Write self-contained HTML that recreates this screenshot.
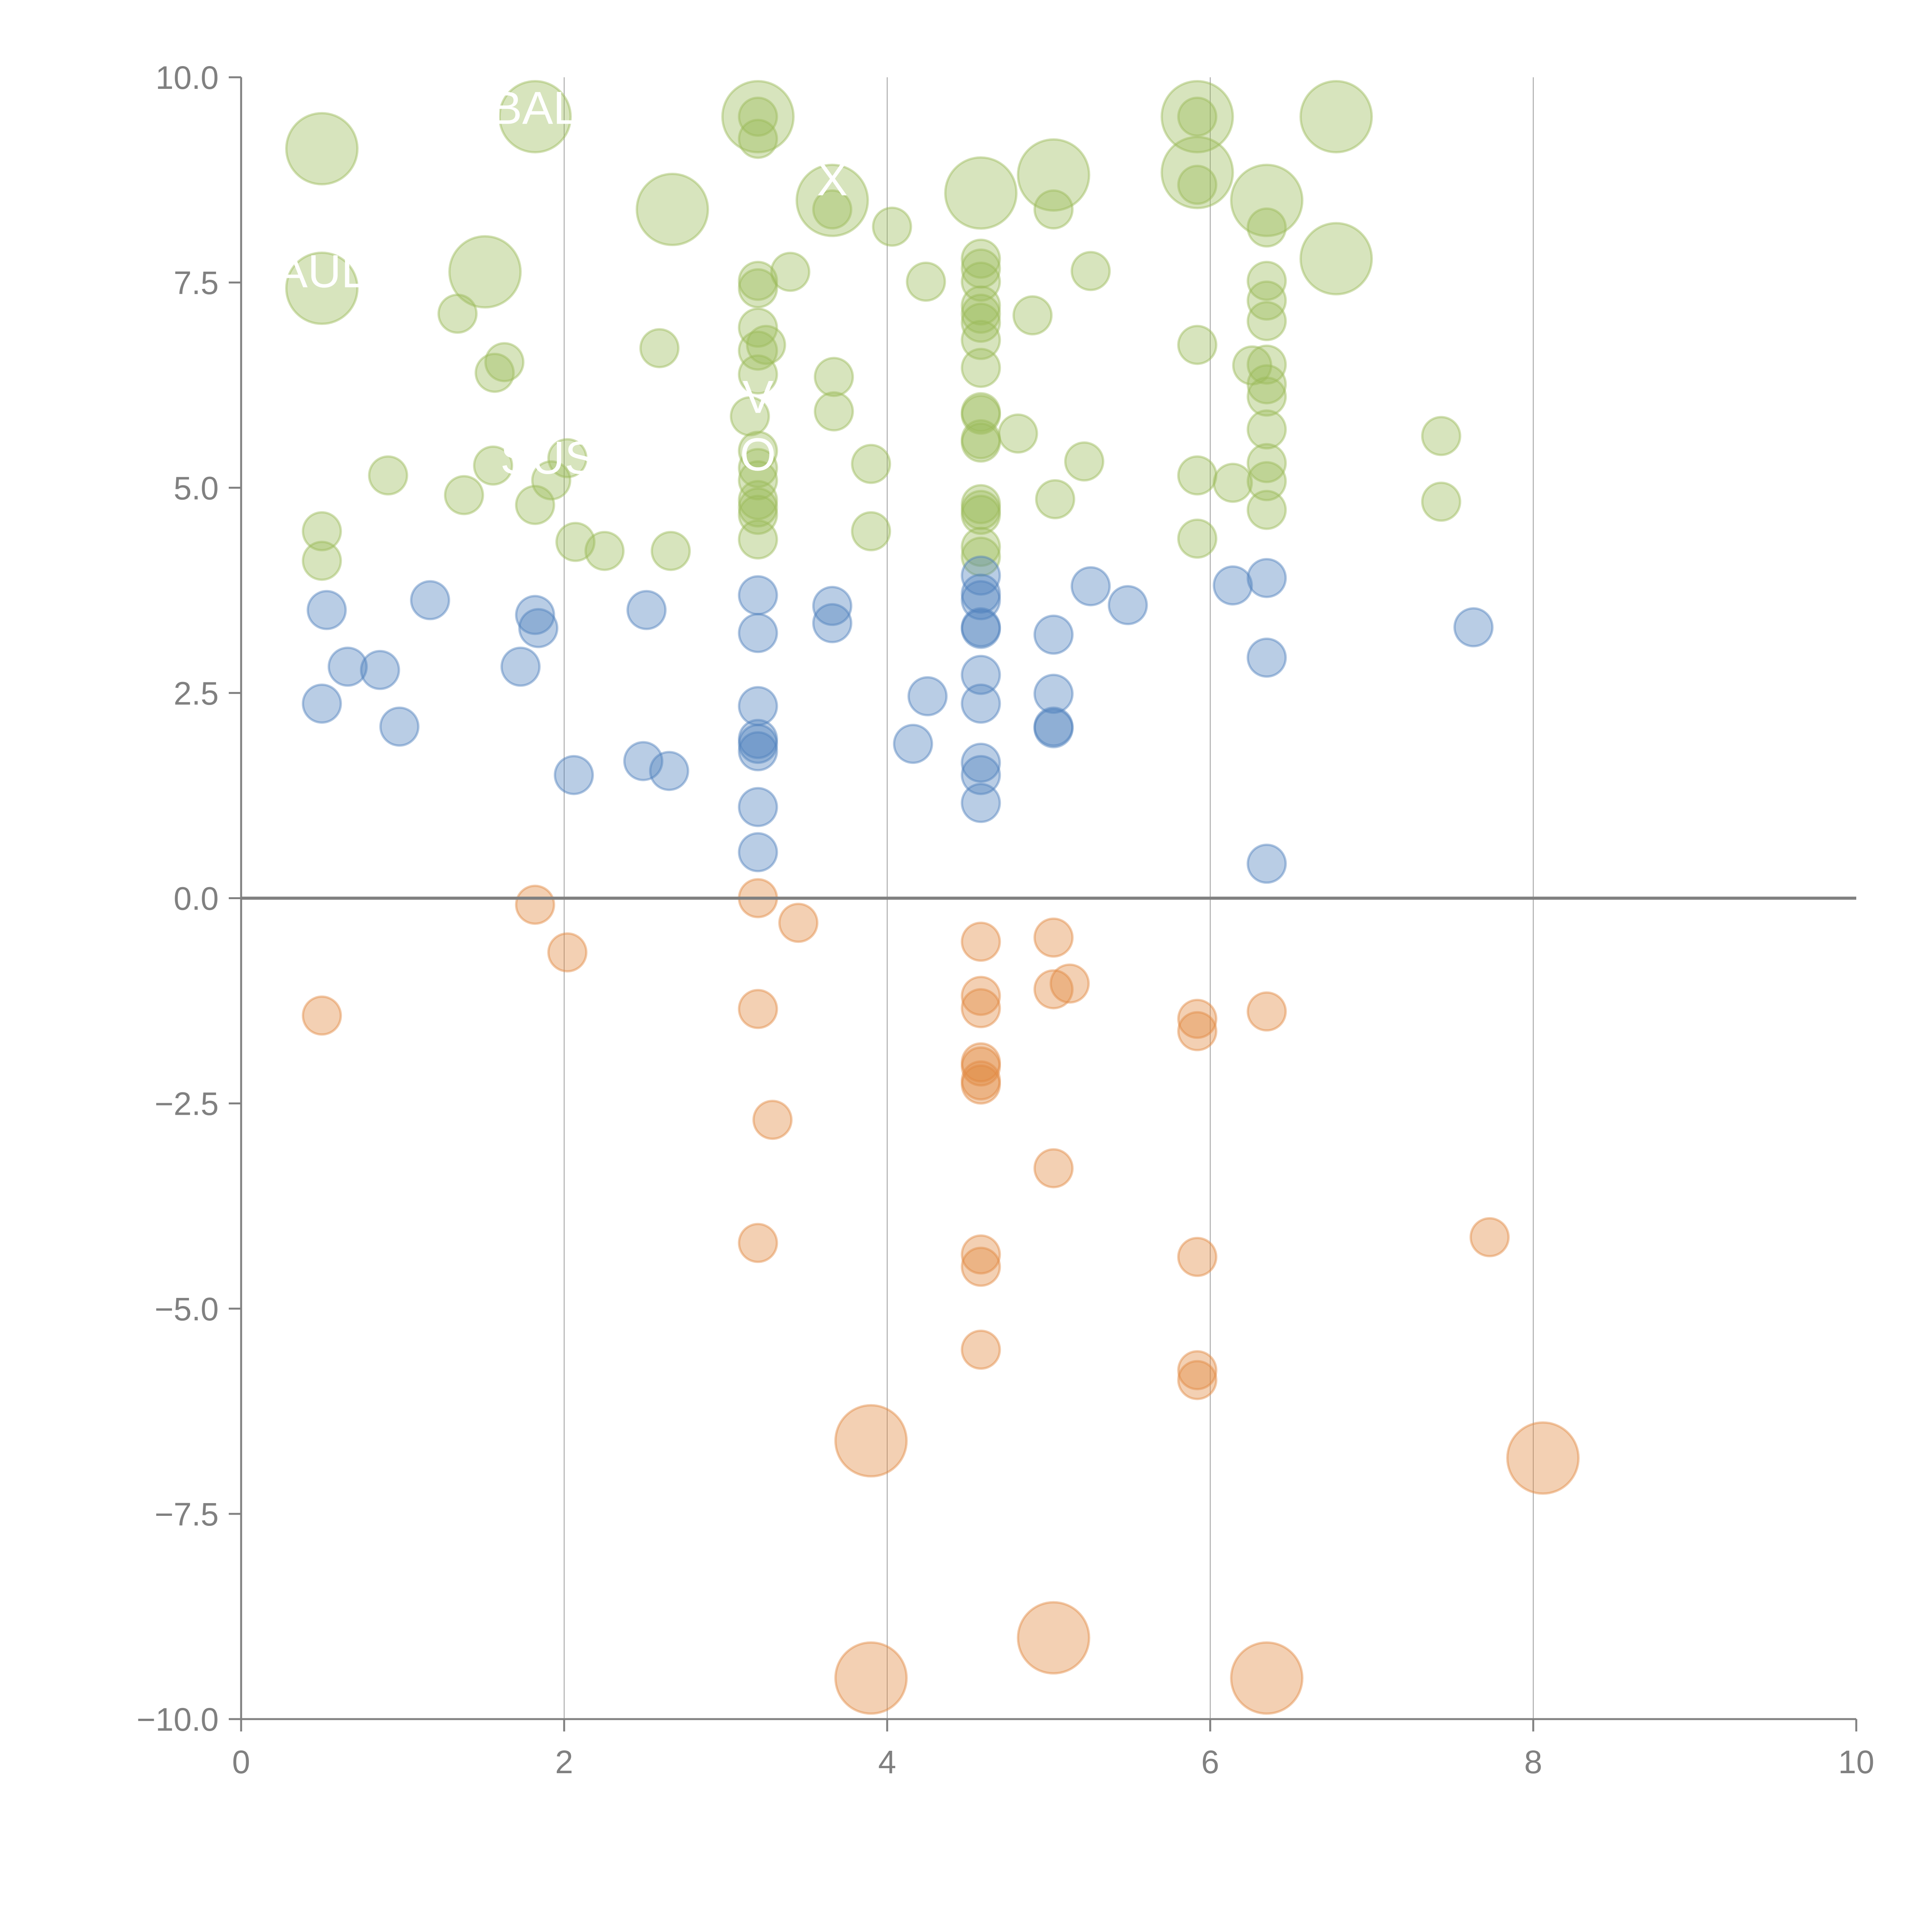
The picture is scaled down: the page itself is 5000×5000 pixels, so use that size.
<!DOCTYPE html>
<html><head><meta charset="utf-8"><style>html,body{margin:0;padding:0;background:#fff}svg{display:block}</style></head>
<body>
<svg id="chart" width="5000" height="5000" viewBox="0 0 5000 5000" xmlns="http://www.w3.org/2000/svg" font-family="'Liberation Sans', sans-serif">
<g id="grid"></g>
<g id="marks"></g>
<g id="axes"></g>
<g id="labels"></g>
</svg>
<script>
const xTicks = [0, 2, 4, 6, 8, 10];
const yTicks = [10, 7.5, 5, 2.5, 0, -2.5, -5, -7.5, -10];
const yTickLabels = ["10.0", "7.5", "5.0", "2.5", "0.0", "\u22122.5", "\u22125.0", "\u22127.5", "\u221210.0"];
// green series
const greenX = [0.50,1.82,3.20,2.67,3.66,4.58,5.03,5.92,5.92,6.35,6.78,6.78,0.50,1.51,
 3.20,3.20,5.92,5.92,3.66,4.03,5.03,6.35,3.40,3.20,3.20,4.24,4.58,4.58,4.58,5.26,6.35,1.34,4.58,4.58,4.58,4.90,6.35,6.35,
 3.20,3.20,3.25,2.59,5.92,4.58,1.63,1.57,4.58,3.20,3.67,6.26,6.35,6.35,6.35,3.15,3.67,4.58,4.58,4.81,6.35,7.43,4.58,4.58,
 3.20,3.20,3.20,2.02,1.56,3.90,5.22,6.35,6.35,0.91,5.92,6.14,1.92,1.38,5.04,7.43,3.20,3.20,3.20,1.82,4.58,4.58,4.58,6.35,
 0.50,3.90,3.20,5.92,2.07,4.58,4.58,2.25,2.66,0.50];
const greenY = [9.13,9.52,9.52,8.39,8.50,8.59,8.81,9.52,8.84,8.50,9.52,7.79,7.43,7.63,
 9.52,9.25,9.52,8.69,8.39,8.18,8.39,8.17,7.63,7.52,7.43,7.51,7.79,7.67,7.51,7.64,7.52,7.12,7.22,7.12,7.01,7.10,7.28,7.03,
 6.95,6.67,6.74,6.70,6.74,6.80,6.53,6.40,6.46,6.38,6.35,6.49,6.50,6.26,6.11,5.87,5.93,5.89,5.92,5.66,5.71,5.63,5.59,5.55,
 5.45,5.24,5.09,5.36,5.27,5.29,5.32,5.30,5.08,5.15,5.15,5.06,5.09,4.91,4.86,4.83,4.85,4.76,4.67,4.79,4.80,4.73,4.67,4.73,
 4.47,4.47,4.37,4.38,4.34,4.28,4.16,4.23,4.23,4.11];
const greenSize = [2,2,2,2,2,2,2,2,2,2,2,2,2,2].concat(new Array(84).fill(1));
// blue series
const blueX = [0.53,1.17,1.82,1.84,2.51,3.20,3.20,3.66,3.66,4.58,4.58,4.58,4.58,4.58,5.26,5.49,5.03,6.14,6.35,6.35,7.63,
 0.66,0.86,1.73,0.50,3.20,4.25,4.58,4.58,5.03,5.03,5.03,0.98,4.16,3.20,3.20,3.20,2.06,2.49,2.65,4.58,4.58,4.58,3.20,3.20,6.35];
const blueY = [3.51,3.63,3.45,3.29,3.51,3.69,3.23,3.56,3.35,3.93,3.71,3.63,3.30,3.28,3.80,3.57,3.21,3.81,3.90,2.93,3.30,
 2.82,2.78,2.82,2.37,2.34,2.46,2.72,2.37,2.49,2.09,2.07,2.09,1.88,1.94,1.88,1.79,1.50,1.67,1.55,1.65,1.50,1.16,1.11,0.56,0.42];
const blueSize = new Array(46).fill(1);
// orange series
const orangeX = [1.82,3.20,3.45,2.02,4.58,5.03,5.13,5.03,4.58,4.58,0.50,3.20,5.92,5.92,6.35,4.58,4.58,4.58,4.58,3.29,5.03,3.20,7.73,4.58,4.58,5.92,4.58,5.92,5.92,
 3.90,8.06,5.03,3.90,6.35];
const orangeY = [-0.08,0.00,-0.30,-0.66,-0.53,-0.48,-1.04,-1.11,-1.19,-1.34,-1.43,-1.35,-1.47,-1.62,-1.38,-2.00,-2.05,-2.22,-2.27,-2.70,-3.29,-4.20,-4.13,-4.34,-4.49,-4.37,-5.50,-5.75,-5.87,
 -6.61,-6.82,-9.01,-9.50,-9.50];
const orangeSize = new Array(29).fill(1).concat([2,2,2,2,2]);
const labelText = ["BAL","AUL","SUS","X","V","O"];
const labelX = [1.82,0.50,1.90,3.66,3.20,3.20];
const labelY = [9.62,7.63,5.36,8.75,6.10,5.40];

const NS = "http://www.w3.org/2000/svg";
const X0 = 624, X1 = 4804, Y0 = 200, Y1 = 4449;
const sx = v => X0 + (v - 0) / 10 * (X1 - X0);
const sy = v => Y0 + (10 - v) / 20 * (Y1 - Y0);
const sr = s => s === 2 ? 92 : 49;
function mk(tag, attrs, parent) { const e = document.createElementNS(NS, tag); for (const k in attrs) e.setAttribute(k, attrs[k]); parent.appendChild(e); return e; }

const grid = document.getElementById('grid');
xTicks.slice(1, -1).forEach(t => {
  const l = mk('line', {x1: sx(t), x2: sx(t), y1: Y0, y2: Y1, stroke: '#9a9a9a', 'stroke-width': 2}, grid);
  
  
});

const marks = document.getElementById('marks');
function series(xs, ys, ss, color, name) {
  const g = mk('g', {}, marks);
  
  
  xs.forEach((x, i) => {
    const c = mk('circle', {cx: sx(x), cy: sy(ys[i]), r: sr(ss[i]), fill: color, 'fill-opacity': 0.4, stroke: color, 'stroke-opacity': 0.45, 'stroke-width': 6}, g);
    
    
  });
}
series(greenX, greenY, greenSize, 'rgb(155,187,89)', 'green');
series(blueX, blueY, blueSize, 'rgb(79,129,189)', 'blue');
series(orangeX, orangeY, orangeSize, 'rgb(226,138,66)', 'orange');

const axes = document.getElementById('axes');
const zl = mk('line', {x1: X0, x2: X1, y1: sy(0), y2: sy(0), stroke: '#808080', 'stroke-width': 8}, axes);


const ya = mk('line', {x1: X0, x2: X0, y1: Y0, y2: Y1, stroke: '#808080', 'stroke-width': 5}, axes);


const xa = mk('line', {x1: X0, x2: X1, y1: Y1, y2: Y1, stroke: '#808080', 'stroke-width': 5}, axes);


yTicks.forEach((t, i) => {
  const tk = mk('line', {x1: X0 - 32, x2: X0, y1: sy(t), y2: sy(t), stroke: '#808080', 'stroke-width': 5}, axes);
  
  
  const tx = mk('text', {x: X0 - 58, y: sy(t) + 30, 'text-anchor': 'end', 'font-size': 84, fill: '#808080'}, axes);
  tx.textContent = yTickLabels[i];
  
  
});
xTicks.forEach(t => {
  const tk = mk('line', {x1: sx(t), x2: sx(t), y1: Y1, y2: Y1 + 32, stroke: '#808080', 'stroke-width': 5}, axes);
  
  
  const tx = mk('text', {x: sx(t), y: Y1 + 140, 'text-anchor': 'middle', 'font-size': 84, fill: '#808080'}, axes);
  tx.textContent = String(t);
  
  
});

const labels = document.getElementById('labels');
labelText.forEach((s, i) => {
  const tx = mk('text', {x: sx(labelX[i]), y: sy(labelY[i]) + 40, 'text-anchor': 'middle', 'font-size': 120, fill: '#ffffff'}, labels);
  tx.textContent = s;
  
  
});
</script>
</body></html>
